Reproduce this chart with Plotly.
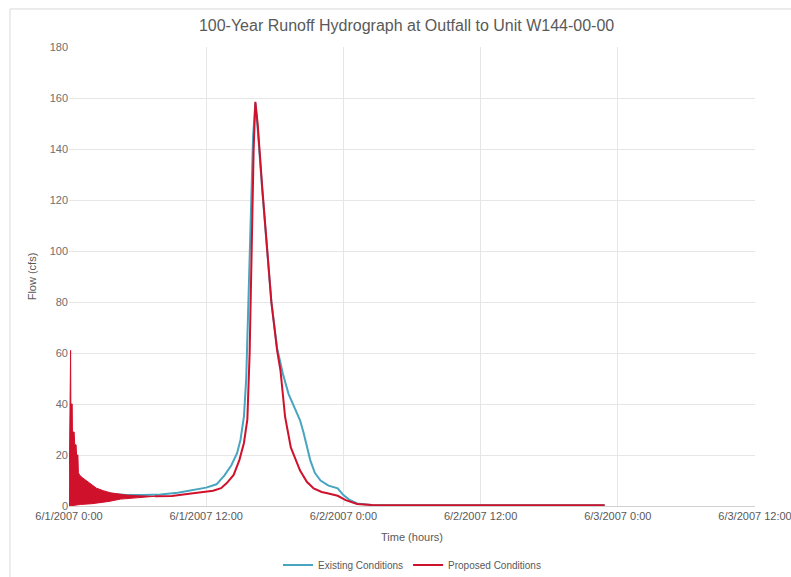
import plotly.graph_objects as go

# ---- data (time in hours from 6/1/2007 0:00, flow in cfs) ----
tick_hours = [0, 12, 24, 36, 48, 60]
tick_labels = ["6/1/2007 0:00", "6/1/2007 12:00", "6/2/2007 0:00",
               "6/2/2007 12:00", "6/3/2007 0:00", "6/3/2007 12:00"]

existing_t = [0, 1.5, 3.0, 3.6, 5.0, 6.5, 8.0, 9.5, 10.9, 12.0, 12.9, 13.6, 14.2, 14.7,
              15.0, 15.3, 15.5, 15.7, 15.85, 16.1, 16.3, 16.5, 16.9, 17.25, 17.7, 18.2,
              18.7, 19.2, 19.7, 20.2, 20.5, 20.7, 21.1, 21.5, 22.0, 22.7, 23.5, 24.0,
              24.5, 25.2, 26.4, 30.0, 46.85]
existing_q = [6, 6, 5.0, 4.7, 4.3, 4.3, 4.5, 5.2, 6.2, 7.2, 8.5, 12, 16, 20.7,
              26, 35, 50, 80, 108, 145, 158, 148, 124, 103, 80, 62,
              52, 44, 39, 33.7, 29, 25, 18, 13, 10, 8, 6.9, 4.3,
              2.5, 1.0, 0.4, 0.3, 0.3]

proposed_t = [7.5, 9.0, 10.0, 10.9, 12.6, 13.3, 13.8, 14.4, 14.9, 15.3, 15.6, 15.8,
              16.0, 16.15, 16.3, 16.5, 16.9, 17.25, 17.7, 18.2, 18.5, 18.9, 19.4, 20.2,
              20.8, 21.4, 22.1, 22.6, 23.5, 24.2, 25.2, 26.5, 30.0, 46.85]
proposed_q = [3.8, 3.9, 4.5, 5.1, 6.0, 7.0, 9.0, 12.2, 18, 24.7, 34, 60,
              104, 140, 158.5, 150, 125, 104, 80, 61, 53, 35, 23, 14,
              9.5, 6.9, 5.5, 5.0, 4.0, 2.3, 0.8, 0.4, 0.3, 0.3]

# early oscillation of the proposed series: upper and lower envelopes
osc_upper_t = [0.0, 0.08, 0.14, 0.16, 0.28, 0.3, 0.45, 0.5, 0.62, 0.66, 0.78, 0.82,
               0.95, 1.2, 1.5, 1.9, 2.4, 3.0, 3.6, 4.2, 5.0, 6.0, 7.5]
osc_upper_q = [0, 61, 61, 40, 40, 29, 29, 24, 24, 20, 20, 13,
               12, 11, 10, 8.5, 7, 6, 5.2, 4.8, 4.3, 4.0, 3.8]
osc_lower_t = [0.0, 0.5, 1.0, 2.0, 2.7, 3.5, 4.5, 5.7, 6.7, 7.5]
osc_lower_q = [0.0, 0.3, 0.6, 0.9, 1.2, 1.8, 2.7, 3.1, 3.5, 3.8]

BLUE = "#48A5C0"
RED = "#D0112B"
GRID = "#E6E6E6"
TXT = "#595959"

fig = go.Figure()
fig.add_trace(go.Scatter(x=existing_t, y=existing_q, mode="lines", name="Existing Conditions",
                         line=dict(color=BLUE, width=2)))
fig.add_trace(go.Scatter(x=osc_upper_t + osc_lower_t[::-1], y=osc_upper_q + osc_lower_q[::-1],
                         mode="lines", fill="toself", fillcolor=RED, line=dict(color=RED, width=1),
                         showlegend=False, hoverinfo="skip"))
fig.add_trace(go.Scatter(x=proposed_t, y=proposed_q, mode="lines", name="Proposed Conditions",
                         line=dict(color=RED, width=2)))

fig.update_layout(
    width=791, height=577,
    margin=dict(l=69, r=36, t=47, b=71, autoexpand=False),
    paper_bgcolor="white", plot_bgcolor="white",
    font=dict(family="Liberation Sans, Arial, sans-serif", color=TXT, size=11),
    title=dict(text="100-Year Runoff Hydrograph at Outfall to Unit W144-00-00",
               x=0.514, xanchor="center", y=0.9567, yanchor="middle",
               font=dict(size=16, color=TXT)),
    xaxis=dict(range=[0, 60], tickvals=tick_hours, ticktext=tick_labels,
               showgrid=True, gridcolor=GRID, gridwidth=1, zeroline=False,
               showline=True, linecolor="#D0D0D0", ticks="", ticklen=0,
               automargin=False, ticklabeloverflow="allow",
               title=dict(text="Time (hours)", font=dict(size=11, color=TXT), standoff=12),
               tickfont=dict(size=11, color=TXT)),
    yaxis=dict(range=[0, 180], dtick=20, showgrid=True, gridcolor=GRID, gridwidth=1,
               zeroline=False, showline=False, ticks="", automargin=False,
               title=dict(text="Flow (cfs)", font=dict(size=11, color=TXT), standoff=10),
               tickfont=dict(size=11, color="#6E6E6E")),
    legend=dict(orientation="h", x=0.5, xanchor="center", y=-0.1285, yanchor="middle",
                font=dict(size=10, color=TXT)),
    shapes=[dict(type="rect", xref="paper", yref="paper", x0=-0.086, x1=1.2, y0=-0.3, y1=1.0828,
                 line=dict(color="#D9D9D9", width=1), fillcolor="rgba(0,0,0,0)", layer="below")],
)

fig.write_html("out.html", config={"displayModeBar": False},
               post_script="document.body.style.margin='0';document.body.style.overflow='hidden';")
